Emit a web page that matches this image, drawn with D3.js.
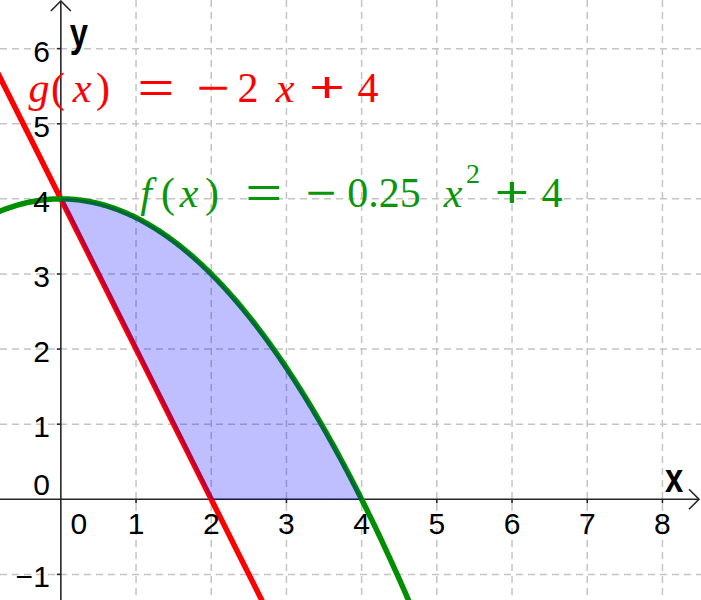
<!DOCTYPE html>
<html>
<head>
<meta charset="utf-8">
<script src="https://cdn.jsdelivr.net/npm/d3@7"></script>
<style>
  html, body { margin: 0; padding: 0; background: #fff; }
  svg { display: block; }
  .serif { font-family: "Liberation Serif", "DejaVu Serif", "Noto Serif", "Times New Roman", Times, serif; }
  .sans { font-family: "Liberation Sans", Arial, Helvetica, sans-serif; }
  .op { font-family: "Liberation Sans", Arial, sans-serif; font-style: normal; }
</style>
</head>
<body>
<script>
// ---- data ----
const xGridValues = [1, 2, 3, 4, 5, 6, 7, 8];
const yGridValues = [-1, 1, 2, 3, 4, 5, 6];
const xTickLabels = ["1", "2", "3", "4", "5", "6", "7", "8"];
const yTickLabels = ["−1", "1", "2", "3", "4", "5", "6"];
const originLabel = "0";
// f(x) = a x^2 + b x + c ; g(x) = m x + k
const fCoeffs = [-0.25, 0, 4];
const gCoeffs = [-2, 4];
const areaBounds = [0, 4];
const xDomain = [-0.809, 8.513];
const yDomain = [-1.341, 6.648];

const W = 701, H = 600;
const x = d3.scaleLinear().domain(xDomain).range([0, W]);
const y = d3.scaleLinear().domain(yDomain).range([H, 0]);

const f = t => fCoeffs[0] * t * t + fCoeffs[1] * t + fCoeffs[2];
const g = t => gCoeffs[0] * t + gCoeffs[1];

const svg = d3.select("body").append("svg").attr("width", W).attr("height", H);

// grid
const grid = svg.append("g").attr("stroke", "#c4c4c4").attr("stroke-width", 1.5)
  .attr("stroke-dasharray", "7,5");
grid.selectAll("line.v").data(xGridValues).join("line").attr("class", "v")
  .attr("x1", d => x(d)).attr("x2", d => x(d)).attr("y1", 0).attr("y2", H);
grid.selectAll("line.h").data(yGridValues).join("line").attr("class", "h")
  .attr("y1", d => y(d)).attr("y2", d => y(d)).attr("x1", 0).attr("x2", W);

// axes
const axisColor = "#262626";
const axes = svg.append("g").attr("stroke", axisColor).attr("stroke-width", 1.6).attr("fill", "none");
axes.append("line").attr("x1", 0).attr("x2", W - 2).attr("y1", y(0)).attr("y2", y(0));
axes.append("line").attr("x1", x(0)).attr("x2", x(0)).attr("y1", 1).attr("y2", H);
axes.append("polyline").attr("points", `${W-12},${y(0)-10} ${W-2},${y(0)} ${W-12},${y(0)+10}`);
axes.append("polyline").attr("points", `${x(0)-10},11 ${x(0)},1 ${x(0)+10},11`);
axes.selectAll("line.xt").data(xGridValues).join("line").attr("class", "xt")
  .attr("x1", d => x(d)).attr("x2", d => x(d)).attr("y1", y(0)).attr("y2", y(0) + 4);
axes.selectAll("line.yt").data(yGridValues).join("line").attr("class", "yt")
  .attr("x1", x(0) - 4).attr("x2", x(0)).attr("y1", d => y(d)).attr("y2", d => y(d));

// curves
const lineGen = d3.line().x(d => x(d[0])).y(d => y(d[1]));
const gPts = [xDomain[0] - 0.2, xDomain[1]].map(t => [t, g(t)]);
const fPts = d3.range(xDomain[0] - 0.2, xDomain[1] + 0.01, 0.02).map(t => [t, f(t)]);

svg.append("path").datum(gPts).attr("d", lineGen)
  .attr("fill", "none").attr("stroke", "#ff0000").attr("stroke-width", 5.5);
svg.append("path").datum(fPts).attr("d", lineGen)
  .attr("fill", "none").attr("stroke", "#008f00").attr("stroke-width", 5.5);

// area between f and max(g,0)
const areaPts = d3.range(areaBounds[0], areaBounds[1] + 0.0001, 0.01).map(t => [t, f(t), Math.max(g(t), 0)]);
const areaGen = d3.area().x(d => x(d[0])).y0(d => y(d[2])).y1(d => y(d[1]));
svg.append("path").datum(areaPts).attr("d", areaGen)
  .attr("fill", "rgb(0,0,255)").attr("fill-opacity", 0.25)
  .attr("stroke", "rgb(0,0,160)").attr("stroke-opacity", 0.3).attr("stroke-width", 1);

// tick labels
const tl = svg.append("g").attr("class", "sans").attr("font-size", 30).attr("fill", "#000");
tl.selectAll("text.x").data(xGridValues).join("text").attr("class", "x")
  .attr("x", d => x(d)).attr("y", y(0) + 35).attr("text-anchor", "middle")
  .text((d, i) => xTickLabels[i]);
tl.selectAll("text.y").data(yGridValues).join("text").attr("class", "y")
  .attr("x", x(0) - 11).attr("y", d => y(d) + 13).attr("text-anchor", "end")
  .text((d, i) => yTickLabels[i]);
tl.append("text").attr("x", x(0) + 18).attr("y", y(0) + 35).attr("text-anchor", "middle").text(originLabel);
tl.append("text").attr("x", x(0) - 11).attr("y", y(0) - 4).attr("text-anchor", "end").text(originLabel);

// axis names
const an = svg.append("g").attr("class", "sans").attr("font-weight", "bold").attr("font-size", 40).attr("fill", "#000");
an.append("text").attr("transform", `translate(${x(0) + 9},47) scale(0.82,1)`).text("y");
an.append("text").attr("transform", `translate(${W - 36},${y(0) - 7}) scale(0.82,1)`).text("x");

// formula labels: tokens [text, centerX, kind, scaleX, baselineOverride, fontSize]
// kind: "i" italic letter, "n" upright, "o" operator
function formula(tokens, baseline, color) {
  const gEl = svg.append("g").attr("class", "serif").attr("fill", color).attr("font-size", 42);
  tokens.forEach(tk => {
    const [txt, cx, kind, sx, by, fs] = tk;
    const yy = by !== undefined ? by : baseline;
    const t = gEl.append("text").attr("x", 0).attr("y", 0).attr("text-anchor", "middle").text(txt);
    if (kind === "i") t.attr("font-style", "italic");
    if (kind === "o") t.attr("class", "op");
    if (fs) t.attr("font-size", fs);
    t.attr("transform", `translate(${cx},${yy}) scale(${sx || 1},1)`);
  });
}
formula([
  ["g", 39, "i"], ["(", 58, "n"], ["x", 82, "i"], [")", 103, "n"],
  ["=", 156, "o", 1.5], ["−", 213, "o", 1.35],
  ["2", 248, "n"], ["x", 285, "i"], ["+", 327, "o", 1.45], ["4", 368, "n"]
], 102, "#ff0000");
formula([
  ["f", 146, "i"], ["(", 168, "n"], ["x", 189, "i"], [")", 212, "n"],
  ["=", 264, "o", 1.5], ["−", 321, "o", 1.25],
  ["0.25", 384, "n", 1.0], ["x", 453, "i"], ["2", 473, "n", 1, 183, 28],
  ["+", 512, "o", 1.4], ["4", 552, "n"]
], 207, "#0a960a");
</script>
</body>
</html>
